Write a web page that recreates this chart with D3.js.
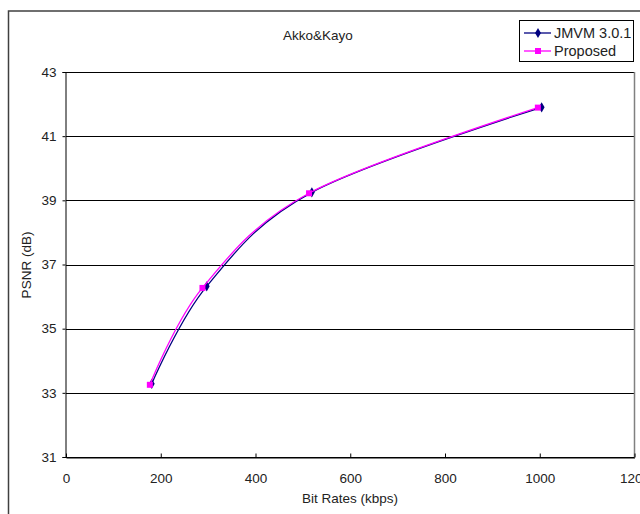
<!DOCTYPE html>
<html>
<head>
<meta charset="utf-8">
<script src="https://d3js.org/d3.v7.min.js"></script>
<style>
  body { margin: 0; background: #fff; }
  text { font-family: "Liberation Sans", Arial, sans-serif; fill: #222; }
</style>
</head>
<body>
<svg width="640" height="514"></svg>
<script>
// data
const seriesNames = ["JMVM 3.0.1", "Proposed"];
const jmvmRate = [181, 297, 519, 1004];
const jmvmPsnr = [33.28, 36.32, 39.25, 41.90];
const propRate = [177, 288, 513, 996];
const propPsnr = [33.25, 36.27, 39.22, 41.89];
const xTicks = [0, 200, 400, 600, 800, 1000, 1200];
const yTicks = [31, 33, 35, 37, 39, 41, 43];

const svg = d3.select("svg");

// outer chart frame
svg.append("rect")
    .attr("x", 8.5).attr("y", 11)
    .attr("width", 700).attr("height", 600)
    .attr("fill", "none").attr("stroke", "#404040").attr("stroke-width", 1.5);

const x = d3.scaleLinear().domain([0, 1200]).range([66, 634.5]);
const y = d3.scaleLinear().domain([31, 43]).range([457, 72]);

// gridlines
svg.selectAll("line.grid")
    .data(yTicks)
    .enter()
    .append("line")
    .attr("class", "grid")
    .attr("x1", x(0)).attr("x2", x(1200))
    .attr("y1", d => Math.round(y(d)) + 0.5).attr("y2", d => Math.round(y(d)) + 0.5)
    .attr("stroke", "#000").attr("stroke-width", 1);

// right border of plot
svg.append("line")
    .attr("x1", x(1200)).attr("x2", x(1200))
    .attr("y1", y(43)).attr("y2", y(31))
    .attr("stroke", "#808080").attr("stroke-width", 1.5);

// y axis
const yAxis = svg.append("g")
    .attr("transform", `translate(${x(0) - 0.5},0)`)
    .call(d3.axisLeft(y).tickValues(yTicks).tickSize(3).tickPadding(6));
yAxis.select(".domain").attr("stroke", "#000");
yAxis.selectAll("text").attr("font-size", 13.5).attr("fill", "#222");

// x axis, ticks pointing inward
const xAxis = svg.append("g")
    .attr("transform", `translate(0,${y(31) + 0.5})`)
    .call(d3.axisBottom(x).tickValues(xTicks).tickFormat(d3.format("d"))
        .tickSize(-4).tickPadding(16).tickSizeOuter(0));
xAxis.select(".domain").attr("stroke", "#000");
xAxis.selectAll("text").attr("font-size", 13.5).attr("fill", "#222");

// titles
svg.append("text")
    .attr("x", 318).attr("y", 40)
    .attr("text-anchor", "middle").attr("font-size", 13.5)
    .text("Akko&Kayo");
svg.append("text")
    .attr("x", 350).attr("y", 503)
    .attr("text-anchor", "middle").attr("font-size", 13.5)
    .text("Bit Rates (kbps)");
svg.append("text")
    .attr("transform", "translate(31,265) rotate(-90)")
    .attr("text-anchor", "middle").attr("font-size", 13.5)
    .text("PSNR (dB)");

// series
const series = [
    { name: seriesNames[0], rate: jmvmRate, psnr: jmvmPsnr, color: "#000080", symbol: d3.symbolDiamond, size: 30 },
    { name: seriesNames[1], rate: propRate, psnr: propPsnr, color: "#ff00ff", symbol: d3.symbolSquare, size: 36 }
];

const line = d3.line()
    .x(d => x(d[0]))
    .y(d => y(d[1]))
    .curve(d3.curveCardinal.tension(0));

series.forEach(s => {
    const pts = s.rate.map((r, i) => [r, s.psnr[i]]);
    svg.append("path")
        .attr("d", line(pts))
        .attr("fill", "none")
        .attr("stroke", s.color)
        .attr("stroke-width", 1.3);
    svg.selectAll(null)
        .data(pts)
        .enter()
        .append("path")
        .attr("transform", d => `translate(${x(d[0])},${y(d[1])})`)
        .attr("d", d3.symbol().type(s.symbol).size(s.size))
        .attr("fill", s.color);
});

// legend
svg.append("rect")
    .attr("x", 519.5).attr("y", 20.5)
    .attr("width", 114).attr("height", 41)
    .attr("fill", "#fff").attr("stroke", "#000");

series.forEach((s, i) => {
    const ly = 33 + i * 18;
    svg.append("line")
        .attr("x1", 524).attr("x2", 551)
        .attr("y1", ly).attr("y2", ly)
        .attr("stroke", s.color).attr("stroke-width", 1.3);
    svg.append("path")
        .attr("transform", `translate(538,${ly})`)
        .attr("d", d3.symbol().type(s.symbol).size(s.size))
        .attr("fill", s.color);
    svg.append("text")
        .attr("x", 554).attr("y", ly + 5)
        .attr("font-size", 14.5)
        .text(s.name);
});
</script>
</body>
</html>
